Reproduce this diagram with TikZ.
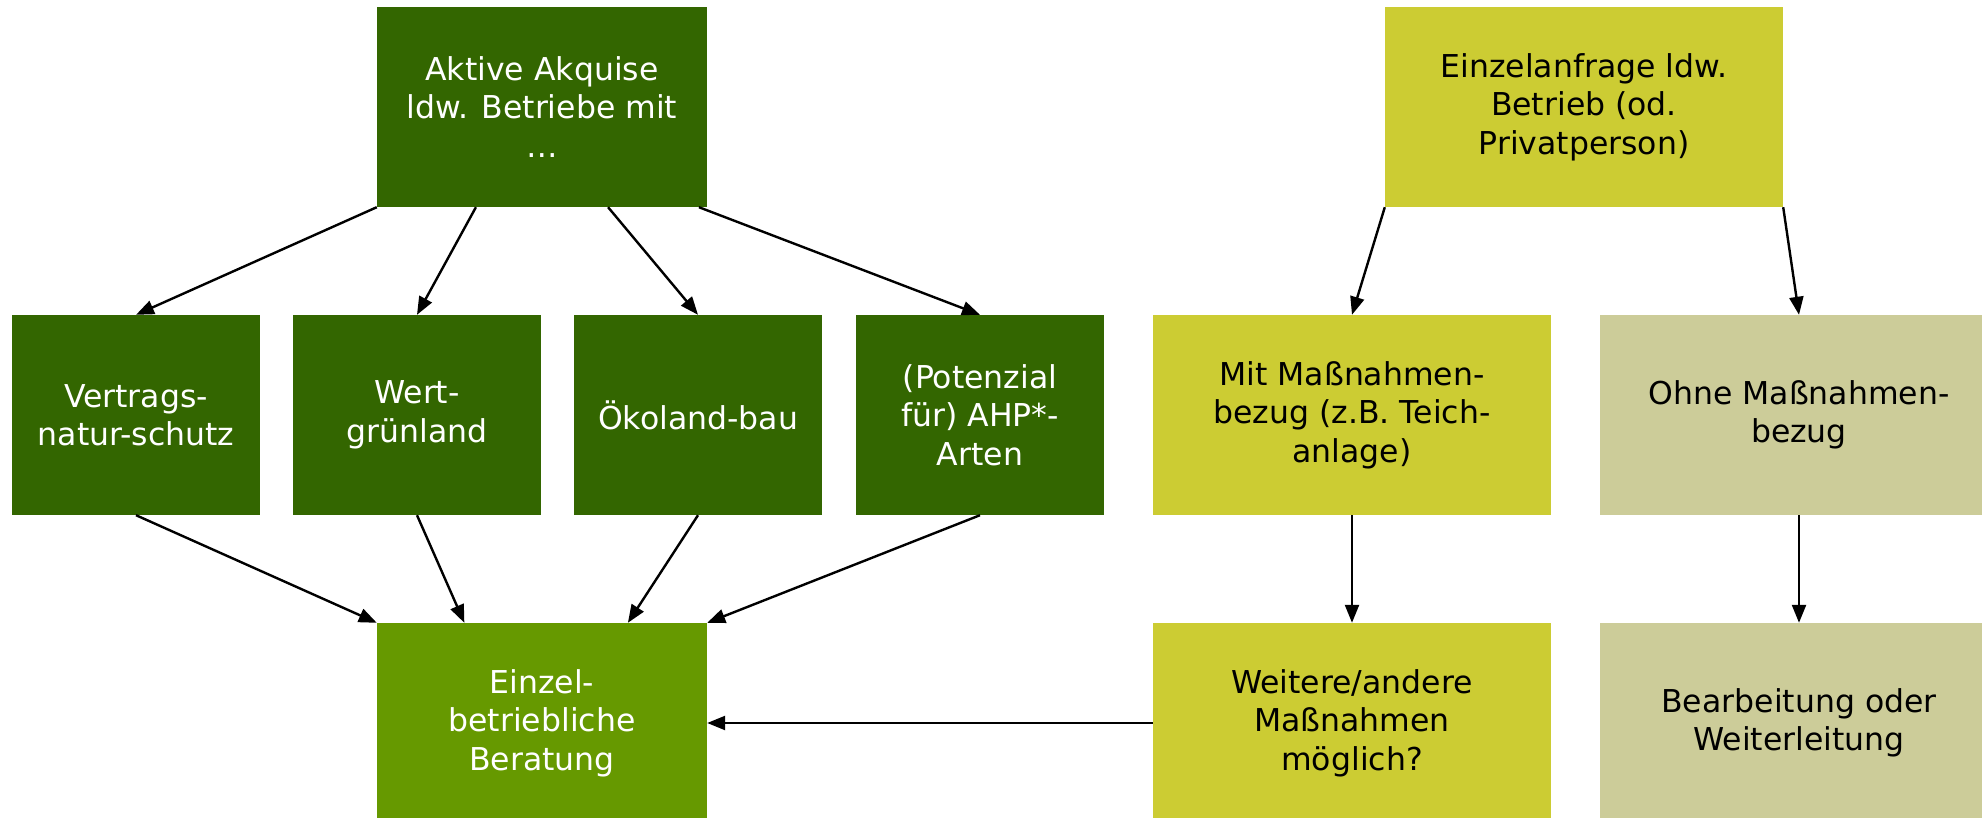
\documentclass[tikz,border=0pt]{standalone}
\usepackage{fontspec}
\setmainfont{DejaVu Sans}
\usepackage{tikz}
\usetikzlibrary{arrows.meta, calc}

\definecolor{dunkelgruen}{HTML}{336600}
\definecolor{mittelgruen}{HTML}{669900}
\definecolor{gelbgruen}{HTML}{CCCC33}
\definecolor{khaki}{HTML}{CCCC99}

\begin{document}
\begin{tikzpicture}[x=1pt, y=1pt,
    kasten/.style={inner sep=0pt, align=center, minimum height=200pt,
      font=\fontsize{31.5}{38.5}\selectfont},
    gruen/.style={kasten, fill=dunkelgruen, text=white},
    pfeil/.style={-{Triangle[length=18pt, width=14pt]}, line width=2.4pt}]
    % 画布范围
    \useasboundingbox (0,0) rectangle (1982,817);
    \clip (0,0) rectangle (1982,817);

    % 左侧: 主动获取
    \node[gruen, minimum width=330pt] (akquise) at (542,710) {Aktive Akquise\\ldw. Betriebe mit\\…};
    \node[gruen, minimum width=248pt] (vns) at (136,402) {Vertrags-\\natur-schutz};
    \node[gruen, minimum width=248pt] (wgl) at (417,402) {Wert-\\grünland};
    \node[gruen, minimum width=248pt] (oeko) at (698,402) {Ökoland-bau};
    \node[gruen, minimum width=248pt] (ahp) at (980,402) {(Potenzial\\für) AHP*-\\Arten};
    \node[kasten, fill=mittelgruen, text=white, minimum width=330pt] (beratung) at (542,94) {Einzel-\\betriebliche\\Beratung};

    % 右侧: 单独询问
    \node[kasten, fill=gelbgruen, minimum width=398pt] (anfrage) at (1584,710) {Einzelanfrage ldw.\\Betrieb (od.\\Privatperson)};
    \node[kasten, fill=gelbgruen, minimum width=398pt] (mit) at (1352,402) {Mit Maßnahmen-\\bezug (z.B. Teich-\\anlage)};
    \node[kasten, fill=khaki, minimum width=398pt] (ohne) at (1799,402) {Ohne Maßnahmen-\\bezug};
    \node[kasten, fill=gelbgruen, minimum width=398pt] (weitere) at (1352,94) {Weitere/andere\\Maßnahmen\\möglich?};
    \node[kasten, fill=khaki, minimum width=398pt] (bearb) at (1799,94) {Bearbeitung oder\\Weiterleitung};

    % 从上排到中排
    \draw[pfeil] (akquise.south west) -- (vns.north);
    \draw[pfeil] ($(akquise.south west)!0.3!(akquise.south east)$) -- (wgl.north);
    \draw[pfeil] ($(akquise.south west)!0.7!(akquise.south east)$) -- (oeko.north);
    \draw[pfeil] ($(akquise.south west)!0.975!(akquise.south east)$) -- (ahp.north);

    % 从中排到咨询
    \draw[pfeil] (vns.south) -- (beratung.north west);
    \draw[pfeil] (wgl.south) -- ($(beratung.north west)!0.265!(beratung.north east)$);
    \draw[pfeil] (oeko.south) -- ($(beratung.north west)!0.76!(beratung.north east)$);
    \draw[pfeil] (ahp.south) -- (beratung.north east);

    % 右侧连线
    \draw[pfeil] (anfrage.south west) -- (mit.north);
    \draw[pfeil] (anfrage.south east) -- (ohne.north);
    \draw[pfeil] (mit) -- (weitere);
    \draw[pfeil] (ohne) -- (bearb);
    \draw[pfeil] (weitere) -- (beratung);
  \end{tikzpicture}
\end{document}
